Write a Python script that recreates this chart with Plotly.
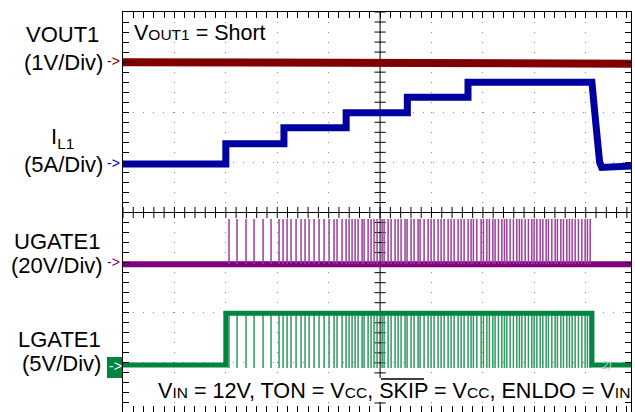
import numpy as np
import plotly.graph_objects as go

# ---------------- data (x: time in divisions, y: amplitude in divisions, 0 = screen centre) ----------
step_times = [0.0, 2.00, 3.13, 4.34, 5.53, 6.71]
il1_levels = [0.97, 1.37, 1.69, 1.99, 2.30, 2.60]
il1_fall_t = [9.12, 9.17, 9.22, 9.27, 9.31, 9.88]
il1_fall_y = [2.60, 2.05, 1.45, 1.00, 0.90, 0.93]

vout_t = [0.0, 9.14, 9.14, 9.88]
vout_y = [3.00, 3.00, 2.97, 2.97]

ugate_base = -1.03
ugate_top = -0.13
lgate_low = -3.04
lgate_high = -2.01
lgate_dip = -3.10
gate_on = 2.00
gate_off = 9.12
t_end = 9.88

pulse_times = [
    2.062, 2.218, 2.393, 2.549, 2.724, 2.879, 3.035,
    3.113, 3.191, 3.268, 3.366, 3.463, 3.541, 3.619, 3.716, 3.813, 3.911, 4.008, 4.105, 4.163, 4.261,
    4.339, 4.397, 4.455, 4.514, 4.572, 4.650, 4.689, 4.767, 4.825, 4.883, 4.942, 5.039, 5.078, 5.156,
    5.214, 5.292, 5.350, 5.409, 5.486,
    5.525, 5.603, 5.661, 5.739, 5.778, 5.856, 5.934, 5.992, 6.051, 6.128, 6.187, 6.245, 6.323, 6.381,
    6.440, 6.518, 6.576, 6.634,
    6.712, 6.770, 6.815, 6.881, 6.965, 7.010, 7.076, 7.126, 7.193, 7.237, 7.302, 7.368, 7.418, 7.465,
    7.529, 7.593, 7.659, 7.710, 7.757, 7.821, 7.885, 7.951, 7.996, 8.049, 8.113, 8.165, 8.230, 8.274,
    8.340, 8.405, 8.449, 8.516, 8.566, 8.632, 8.683, 8.735, 8.794, 8.858, 8.924, 8.988, 9.033, 9.086,
]

C_VOUT = "#800000"
C_IL = "#0000A0"
C_UG = "#800080"
C_UG_P = "#9C3C9C"
C_LG = "#00843F"
C_LG_P = "#2E9A60"

# ---------------- build traces ----------------
il_x, il_y = [], []
for i, t in enumerate(step_times):
    end = step_times[i + 1] if i + 1 < len(step_times) else il1_fall_t[0]
    il_x += [t, end]
    il_y += [il1_levels[i], il1_levels[i]]
il_x += il1_fall_t[1:]
il_y += il1_fall_y[1:]

ug_px, ug_py = [], []
lg_px, lg_py = [], []
for t in pulse_times:
    ug_px += [t, t, None]
    ug_py += [ugate_base, ugate_top, None]
    lg_px += [t, t, None]
    lg_py += [lgate_high, lgate_dip, None]

fig = go.Figure()

# graticule centre lines with ticks
minor = np.round(np.arange(0, 10.0001, 0.2), 3)
minor_y = np.round(np.arange(-4, 4.0001, 0.2), 3)
fig.add_trace(go.Scatter(x=[0, t_end], y=[0, 0], mode="lines", line=dict(color="black", width=1),
                         hoverinfo="skip", showlegend=False))
fig.add_trace(go.Scatter(x=[5, 5], y=[-4, 4], mode="lines", line=dict(color="black", width=1),
                         hoverinfo="skip", showlegend=False))
fig.add_trace(go.Scatter(x=minor, y=[0] * len(minor), mode="markers",
                         marker=dict(symbol="line-ns", size=8, line=dict(color="black", width=1)),
                         hoverinfo="skip", showlegend=False))
fig.add_trace(go.Scatter(x=[5] * len(minor_y), y=minor_y, mode="markers",
                         marker=dict(symbol="line-ew", size=8, line=dict(color="black", width=1)),
                         hoverinfo="skip", showlegend=False))

# signals
fig.add_trace(go.Scatter(x=vout_t, y=vout_y, mode="lines", line=dict(color=C_VOUT, width=8),
                         showlegend=False))
fig.add_trace(go.Scatter(x=il_x, y=il_y, mode="lines", line=dict(color=C_IL, width=7),
                         showlegend=False))
fig.add_trace(go.Scatter(x=[0, t_end], y=[ugate_base, ugate_base], mode="lines",
                         line=dict(color=C_UG, width=6), showlegend=False))
fig.add_trace(go.Scatter(x=ug_px, y=ug_py, mode="lines", line=dict(color=C_UG_P, width=1.5),
                         showlegend=False))
fig.add_trace(go.Scatter(x=lg_px, y=lg_py, mode="lines", line=dict(color=C_LG_P, width=1.5),
                         showlegend=False))
fig.add_trace(go.Scatter(x=[0, gate_on, gate_on, gate_off, gate_off, t_end],
                         y=[lgate_low, lgate_low, lgate_high, lgate_high, lgate_low, lgate_low],
                         mode="lines", line=dict(color=C_LG, width=5), showlegend=False))

axis_common = dict(showgrid=True, gridcolor="#8a8a8a", gridwidth=1, griddash="1px,9px",
                   zeroline=False, showline=True, linecolor="black", linewidth=1, mirror="allticks",
                   ticks="inside", ticklen=6, tickcolor="black", showticklabels=False,
                   tick0=0, dtick=1,
                   minor=dict(ticks="inside", ticklen=6, tickcolor="black", dtick=0.2, tick0=0,
                              showgrid=False))
fig.update_xaxes(range=[0, t_end], **axis_common)
fig.update_yaxes(range=[-3.98, 4.0], **axis_common)

FONT = "Liberation Sans, Arial, sans-serif"
S = "<span style='font-size:15.5px'>"

def px2x(p):
    return (p - 123) / 508.0

def py2y(p):
    return (412 - p) / 400.0

ann = []
def add(text, xp, yp, size=22, color="black", xanchor="center", **kw):
    ann.append(dict(text=text, x=px2x(xp), y=py2y(yp), xref="paper", yref="paper",
                    xanchor=xanchor, yanchor="middle", showarrow=False,
                    font=dict(family=FONT, size=size, color=color), **kw))

add("VOUT1", 62, 34)
add("(1V/Div)", 63, 62)
add("->", 113, 61, size=14, color=C_VOUT)
add("I<sub>L1</sub>", 62, 138)
add("(5A/Div)", 63, 164)
add("->", 113, 163, size=14, color=C_IL)
add("UGATE1", 57, 242)
add("(20V/Div)", 57, 265)
add("->", 113, 262, size=14, color=C_UG)
add("LGATE1", 59, 339)
add("(5V/Div)", 61, 363)
add("->", 115, 366, size=14, color="white")
add("V" + S + "OUT1</span> = Short", 132, 33, size=21.5, xanchor="left")
add("V" + S + "IN</span> = 12V, TON = V" + S + "CC</span>, SKIP = V" + S + "CC</span>, ENLDO = V"
    + S + "IN</span>", 632, 390, size=21.6, xanchor="right")
add("<i>2)</i>", 606, 365, size=11, color="#a8d8bc")

fig.update_layout(
    width=635, height=412,
    margin=dict(l=123, r=4, t=12, b=0),
    paper_bgcolor="white", plot_bgcolor="white",
    annotations=ann,
    shapes=[
        dict(type="rect", xref="paper", yref="paper", x0=px2x(107), x1=0, y0=py2y(378), y1=py2y(357),
             fillcolor=C_LG, line=dict(width=0), layer="below"),
        dict(type="rect", xref="paper", yref="paper", x0=px2x(158), x1=1.0, y0=py2y(402), y1=py2y(378),
             fillcolor="white", line=dict(width=0), layer="above"),
        dict(type="line", xref="paper", yref="paper", x0=px2x(381), x1=px2x(424), y0=py2y(379),
             y1=py2y(379), line=dict(color="black", width=1.5), layer="above"),
    ],
)

fig.write_html("out.html", config={"displayModeBar": False},
               post_script="document.body.style.margin='0';document.body.style.overflow='hidden';")
